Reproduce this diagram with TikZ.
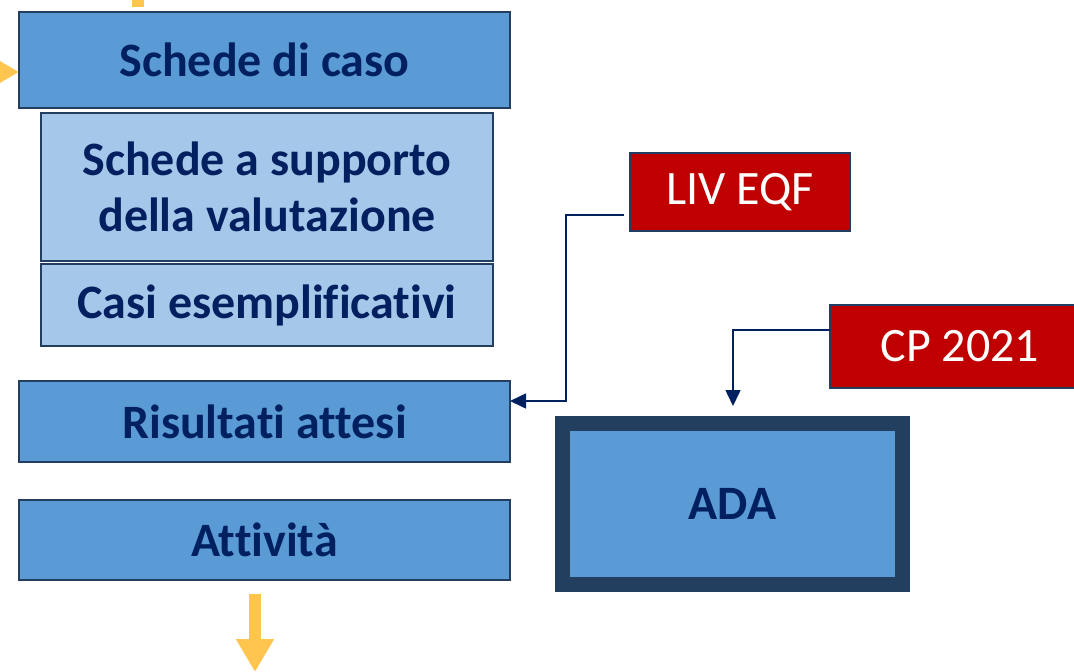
\documentclass[tikz,border=0pt]{standalone}
\usepackage{fontspec}
\setmainfont{Carlito}[Ligatures=NoCommon]
\usetikzlibrary{arrows.meta}
\definecolor{boxblue}{HTML}{5B9BD5}
\definecolor{paleblue}{HTML}{A5C7E9}
\definecolor{navytext}{HTML}{002060}
\definecolor{edgeblue}{HTML}{223F5F}
\definecolor{eqfred}{HTML}{C00000}
\definecolor{flowyellow}{HTML}{FFC54F}

\begin{document}
\begin{tikzpicture}[x=0.02cm,y=-0.02cm,
  bluebox/.style={draw=edgeblue,line width=1.1pt,fill=boxblue,text=navytext,align=center,inner sep=0pt,
    font=\fontsize{27.3}{31.5}\selectfont\bfseries},
  palebox/.style={bluebox,fill=paleblue},
  redbox/.style={draw=edgeblue,line width=1.1pt,fill=eqfred,text=white,inner sep=0pt,
    font=\fontsize{27.3}{32}\selectfont},
  conn/.style={draw=navytext,line width=0.9pt,-{Triangle[length=0.32cm,width=0.3cm]}},
  flow/.style={draw=flowyellow,line width=0.24cm,-{Triangle[length=0.66cm,width=0.72cm]}}]
\useasboundingbox (0,0) rectangle (1074,672);

\node[bluebox,minimum width=9.82cm,minimum height=1.92cm] (caso) at (264.5,60) {Schede di caso}; % caso
\node[palebox,minimum width=9.04cm,minimum height=2.96cm] (supporto) at (267,187) {Schede a supporto\\della valutazione}; % supporto
\node[palebox,minimum width=9.04cm,minimum height=1.64cm] (esempi) at (267,305) {Casi esemplificativi}; % esempi
\node[bluebox,minimum width=9.82cm,minimum height=1.62cm] (attesi) at (264.5,421.5) {Risultati attesi}; % attesi
\node[bluebox,minimum width=9.82cm,minimum height=1.6cm] (attivita) at (264.5,540) {Attività}; % attivita

\node[bluebox,draw=edgeblue,line width=0.3cm,minimum width=6.8cm,minimum height=3.22cm] (ada) at (732.5,504) {ADA}; % ada

\node[redbox,minimum width=4.4cm,minimum height=1.56cm] (eqf) at (740,192) {LIV EQF}; % eqf
\node[redbox,minimum width=5.2cm,minimum height=1.66cm] (cp) at (960,346.5) {CP 2021}; % cp

\coordinate (eqfout) at (624,215);
\coordinate (attesiin) at (510,401);
\coordinate (cpout) at (830,330);
\coordinate (adain) at (733,406);

\draw[conn] (eqfout) -- (566,215) |- (attesiin); % eqf to attesi
\draw[conn] (cpout) -| (adain); % cp to ada

\coordinate (topin) at (138,7);
\coordinate (leftin) at (19,72);
\coordinate (bottomout) at (255,672);
\draw[flowyellow,line width=0.24cm] (138,-20) -- (topin); % top stem
\draw[flow] (-60,72) -- (leftin); % left arrow
\draw[flow] (255,594) -- (bottomout); % bottom arrow

\end{tikzpicture}
\end{document}
